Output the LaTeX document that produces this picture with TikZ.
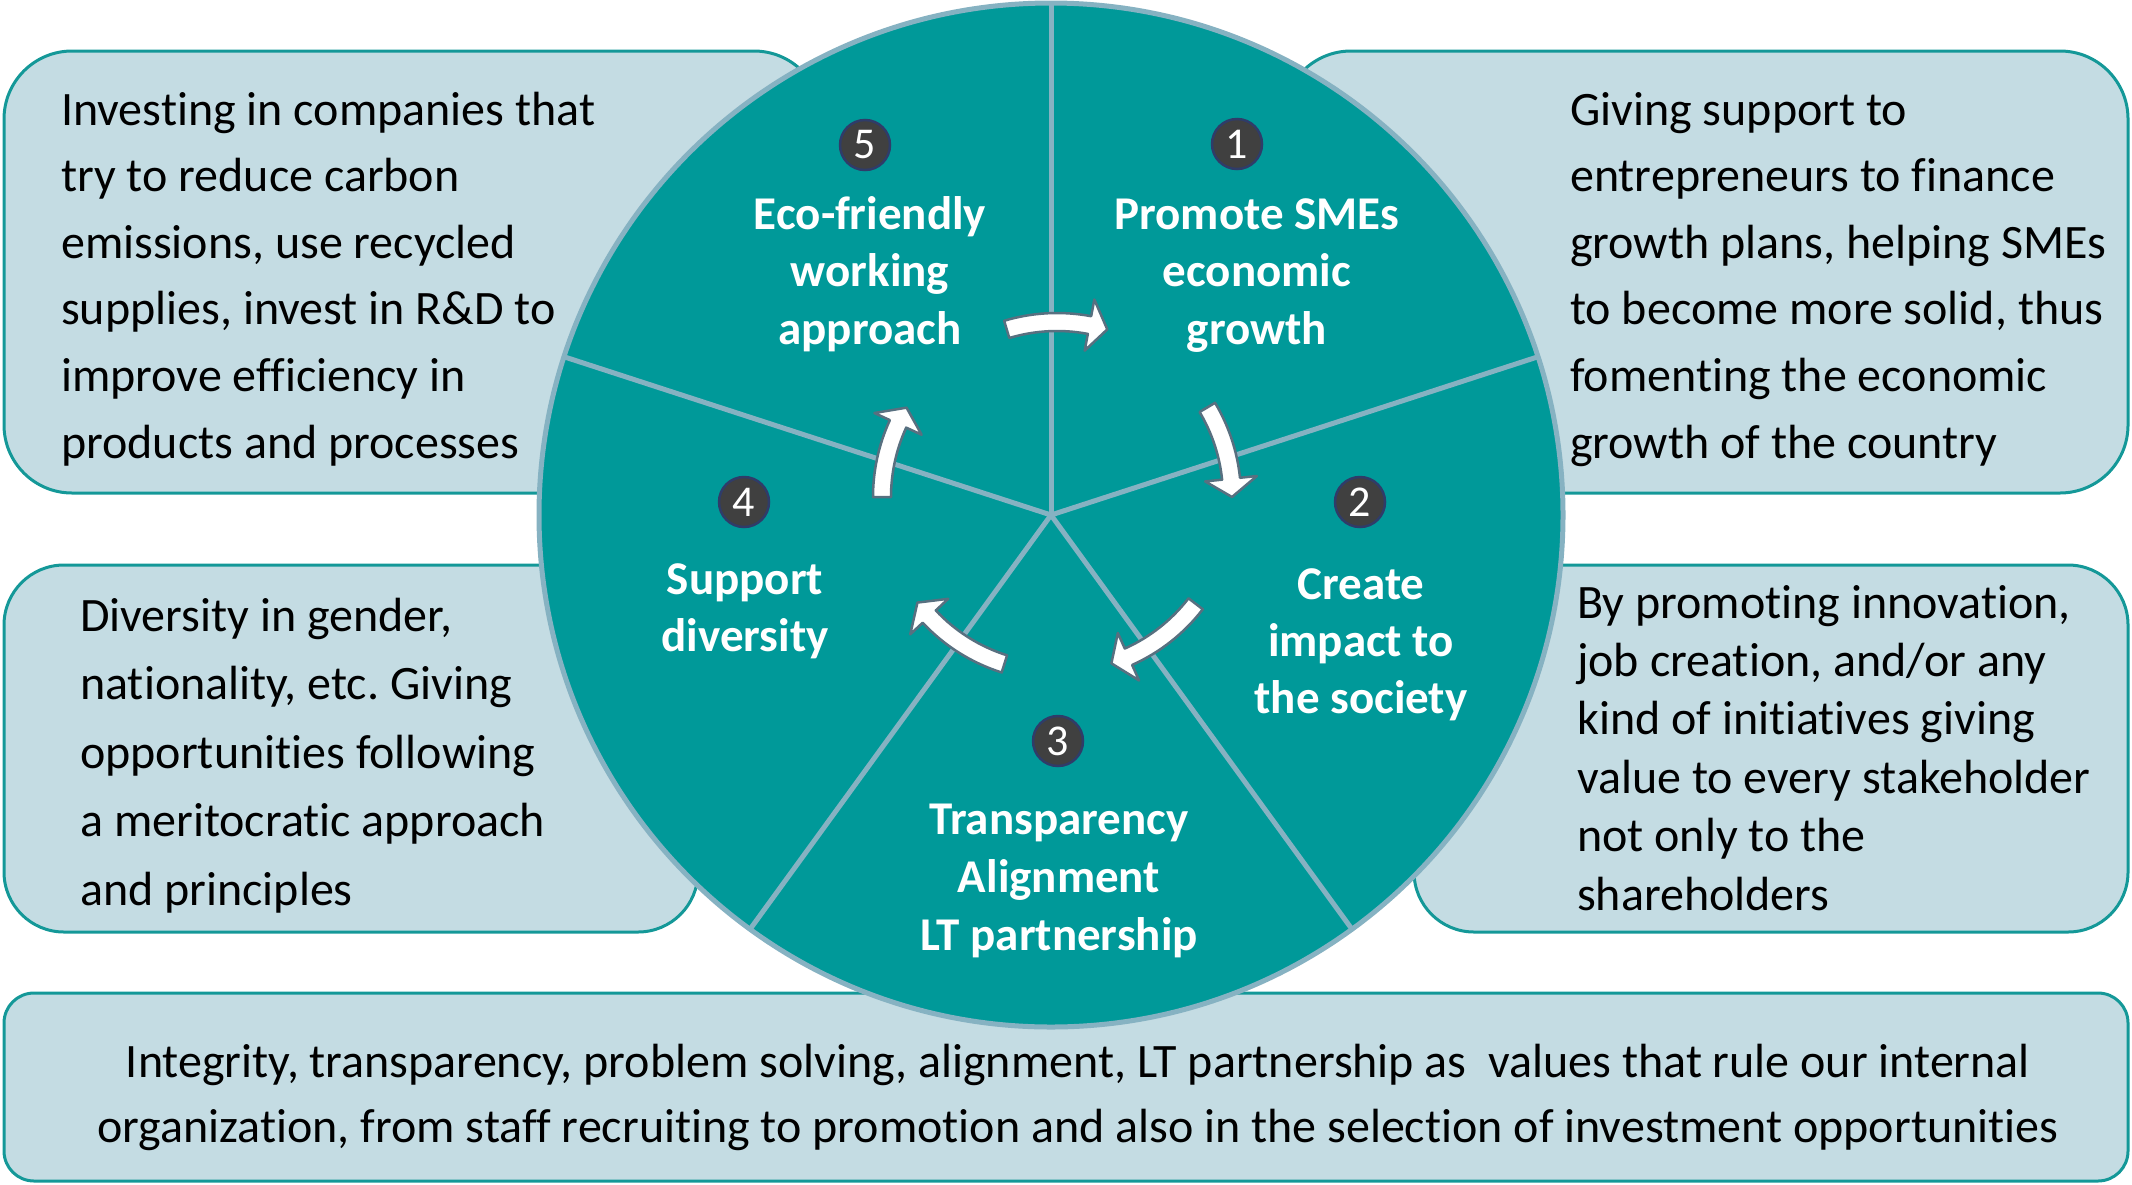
\documentclass[tikz,border=0pt]{standalone}
\usepackage{fontspec}
\setmainfont{Carlito}[Ligatures={NoCommon,NoContextual,NoRequired}]
\frenchspacing
\definecolor{tealfill}{RGB}{0,153,153}
\definecolor{boxfill}{RGB}{196,220,227}
\definecolor{boxline}{RGB}{20,152,152}
\definecolor{rimcol}{RGB}{134,178,194}
\definecolor{arrline}{RGB}{88,112,128}
\definecolor{badgefill}{RGB}{64,64,64}
\definecolor{badgeline}{RGB}{47,60,105}
\tikzset{
  infobox/.style={fill=boxfill, draw=boxline, line width=3pt, rounded corners=#1},
  body/.style={font=\fontsize{48}{56}\selectfont, text=black, inner sep=0pt, anchor=base west},
  bodyc/.style={body, anchor=base},
  seglabel/.style={font=\bfseries\fontsize{47}{56}\selectfont, text=white, inner sep=0pt, anchor=base},
  badge/.style={circle, fill=badgefill, draw=badgeline, line width=2.5pt, minimum size=50pt, inner sep=0pt, text=white, font=\fontsize{44}{50}\selectfont},
  cyarr/.style={fill=white, draw=arrline, line width=2.5pt, line join=round},
  spoke/.style={draw=rimcol, line width=5pt}
}
\newcommand\cycarrow[2]{%
  \pgfmathsetmacro\cyA{#1}%
  \pgfmathsetmacro\cyB{#2-6}%
  \draw[cyarr] (\cyA:184) arc[start angle=\cyA, end angle=\cyB, radius=184]
     -- (\cyB:201) -- (#2:175) -- (\cyB:149) -- (\cyB:166)
     arc[start angle=\cyB, end angle=\cyA, radius=166] -- cycle;}
\begin{document}
\begin{tikzpicture}[x=1pt,y=-1pt]
\useasboundingbox (0,0) rectangle (2132,1184);
% info boxes
\draw[infobox=68pt] (4,51) rectangle (822,493);
\draw[infobox=68pt] (1283,51) rectangle (2128,493);
\draw[infobox=60pt] (4,565) rectangle (698,932);
\draw[infobox=60pt] (1414,565) rectangle (2128,932);
\draw[infobox=30pt] (4,993) rectangle (2128,1181);
% box texts
\foreach \t [count=\i from 0] in {Investing in companies that, try to reduce carbon, {emissions, use recycled}, {supplies, invest in R\&D to}, improve efficiency in, products and processes}
  \node[body] (tl\i) at (61,125+66.6*\i) {\t};
\foreach \t [count=\i from 0] in {Giving support to, entrepreneurs to finance, {growth plans, helping SMEs}, {to become more solid, thus}, fomenting the economic, growth of the country}
  \node[body] (tr\i) at (1570,125+66.6*\i) {\t};
\foreach \t [count=\i from 0] in {{Diversity in gender,}, {nationality, etc. Giving}, opportunities following, a meritocratic approach, and principles}
  \node[body] (ml\i) at (80,631+68.5*\i) {\t};
\foreach \t [count=\i from 0] in {{By promoting innovation,}, {job creation, and/or any}, kind of initiatives giving, value to every stakeholder, not only to the, shareholders}
  \node[body] (mr\i) at (1577,618+58.4*\i) {\t};
\node[bodyc] (bt0) at (1078,1077) {Integrity, transparency, problem solving, alignment, LT partnership as~ values that rule our internal};
\node[bodyc] (bt1) at (1078,1142) {organization, from staff recruiting to promotion and also in the selection of investment opportunities};
% wheel
\coordinate (c) at (1051,515);
\fill[tealfill] (c) circle[radius=512];
\foreach \a in {-90,-18,54,126,198} \draw[spoke] (c) -- ++(\a:512);
\draw[rimcol, line width=5pt] (c) circle[radius=512];
% cycle arrows
\begin{scope}[shift={(1057,497)}]
\cycarrow{-106.7}{-73.3}
\cycarrow{-30.8}{0}
\cycarrow{37.6}{71.9}
\cycarrow{107.5}{142.9}
\cycarrow{180}{210.7}
\end{scope}
% badges
\node[badge] (b5) at (865,145) {5};
\node[badge] (b1) at (1237,144) {1};
\node[badge] (b2) at (1360,502) {2};
\node[badge] (b3) at (1058,741) {3};
\node[badge] (b4) at (744,502) {4};
% segment labels
\node[seglabel] (l5a) at (870,229) {Eco-friendly};
\node[seglabel] (l5b) at (870,286.5) {working};
\node[seglabel] (l5c) at (870,344) {approach};
\node[seglabel] (l1a) at (1257,229) {Promote SMEs};
\node[seglabel] (l1b) at (1257,286.5) {economic};
\node[seglabel] (l1c) at (1257,344) {growth};
\node[seglabel] (l2a) at (1361,599) {Create};
\node[seglabel] (l2b) at (1361,656) {impact to};
\node[seglabel] (l2c) at (1361,713) {the society};
\node[seglabel] (l3a) at (1059,834) {Transparency};
\node[seglabel] (l3b) at (1059,892) {Alignment};
\node[seglabel] (l3c) at (1059,950) {LT partnership};
\node[seglabel] (l4a) at (745,594) {Support};
\node[seglabel] (l4b) at (745,651) {diversity};
\end{tikzpicture}
\end{document}
